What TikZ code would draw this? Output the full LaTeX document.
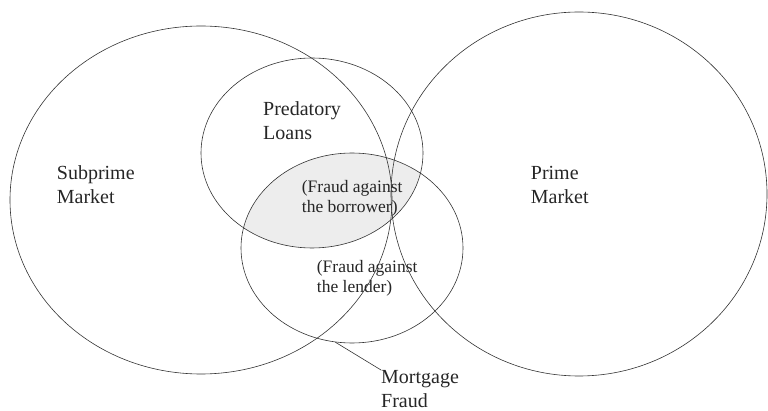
\documentclass[tikz,border=0pt]{standalone}
\usepackage{fontspec}
\setmainfont{Liberation Serif}
\usepackage{tikz}
\usetikzlibrary{shapes}
\usetikzlibrary{positioning}
\usepackage{xcolor}

\begin{document}
\begin{tikzpicture}[x=1pt,y=-1pt,
		set/.style={ellipse,draw=black!80,line width=.6pt,inner sep=0},
		lbl/.style={anchor=north west,inner sep=0,align=left,text=black!85,font=\fontsize{20}{24}\selectfont},
		small/.style={lbl,font=\fontsize{17.5}{20}\selectfont}]
		\useasboundingbox (0,0) rectangle (768,411);
		% shaded overlap
		\begin{scope}
		\clip (312,153) ellipse [x radius=111, y radius=95];
		\fill[black!7] (352,248) ellipse [x radius=111, y radius=95];
		\end{scope}
		\node[set,minimum width=382,minimum height=348] (subprime) at (201,200) {};
		\node[set,minimum width=376,minimum height=364] (prime) at (579,194) {};
		\node[set,minimum width=222,minimum height=190] (predatory) at (312,153) {};
		\node[set,minimum width=222,minimum height=190] (fraud) at (352,248) {};
		\node[lbl] (sublbl) at (56.7,165.3) {Subprime\\Market};
		\node[lbl] (predlbl) at (263,101.3) {Predatory\\Loans};
		\node[lbl] (primelbl) at (530.7,166.4) {Prime\\Market};
		\node[small] (borrlbl) at (301.7,179.9) {(Fraud against\\the borrower)};
		\node[small] (lendlbl) at (316.7,259.9) {(Fraud against\\the lender)};
		\node[lbl] (mortlbl) at (381,370) {Mortgage\\Fraud};
		\draw[black!80,line width=.6pt] (fraud.260) -- (mortlbl.north west);
\end{tikzpicture}
\end{document}
